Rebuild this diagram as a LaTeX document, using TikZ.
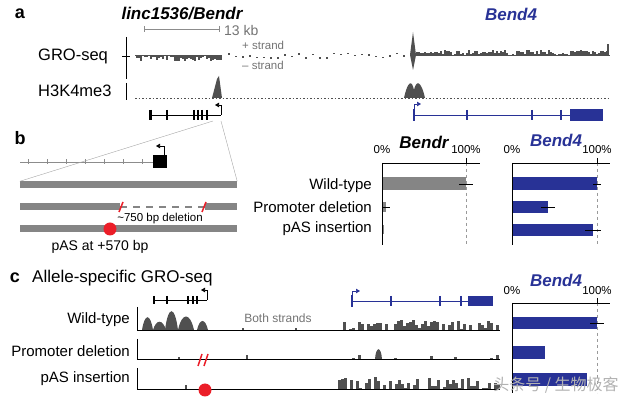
\documentclass[tikz,border=0pt]{standalone}
\usepackage{fontspec}
\setmainfont{Liberation Sans}
\newfontfamily\cjk{Noto Sans CJK SC}
\usetikzlibrary{arrows.meta,positioning}
\definecolor{bendblue}{RGB}{40,50,150}
\definecolor{pasred}{RGB}{235,30,40}
\definecolor{trackgray}{RGB}{80,80,80}

\begin{document}
\begin{tikzpicture}[x=1pt,y=-1pt,font=\fontsize{15}{17}\selectfont]
\tikzstyle{lbl}=[inner sep=0pt]
\tikzstyle{track}=[inner sep=0pt,font=\fontsize{16.5}{18}\selectfont]
\tikzstyle{panel}=[inner sep=0pt,font=\fontsize{18}{20}\selectfont\bfseries]
\tikzstyle{gene}=[inner sep=0pt,font=\fontsize{17}{19}\selectfont\bfseries\itshape]
\tikzstyle{small}=[inner sep=0pt,text=black!55,font=\fontsize{11.5}{13}\selectfont]
\tikzstyle{pct}=[inner sep=0pt,font=\fontsize{11.5}{13}\selectfont]
\tikzstyle{trk}=[fill=trackgray]
\tikzstyle{exon}=[line width=2pt]
\tikzstyle{tss}=[-{Triangle[length=4pt,width=4.5pt]},semithick]
\tikzstyle{bar}=[fill=black!48]
\tikzstyle{bbar}=[fill=bendblue]
\tikzstyle{err}=[thick]
\tikzstyle{ref}=[dashed,black!40]
\tikzstyle{axis}=[semithick]
\tikzstyle{dna}=[fill=black!48,inner sep=0pt,minimum height=7pt]
\useasboundingbox (0,0) rectangle (625,403);
\pgfmathsetseed{1536}
%% panel a %%
\node[panel] at (20,14) (La) {a};
\node[gene] at (182,14) (Gl) {linc1536/Bendr};
\node[gene,text=bendblue] at (511,14) (Gb) {Bend4};
\draw[black!45,semithick,{Bar[width=6pt]}-{Bar[width=6pt]}] (144,29) -- (220,29);
\node[lbl,text=black!55,font=\fontsize{14}{16}\selectfont,anchor=west] at (224,30) (Kb) {13 kb};
\node[track,anchor=west] at (38,56) (Gro) {GRO-seq};
\node[track,anchor=west] at (38,91) (H3) {H3K4me3};
\node[small,anchor=west] at (242,45) (Sp) {+ strand};
\node[small,anchor=west] at (242,65) (Sm) {-- strand};
\draw[axis] (126,37) -- (126,79);
\draw[axis] (122,56) -- (130,56);
\draw[axis] (126,83) -- (126,100);
\draw[trackgray,thin] (135,55) -- (222,55);
\draw[trackgray,thin] (410,55) -- (610,55);
\foreach \x in {136,138,...,220}{
  \pgfmathsetmacro\h{1+rnd*5}
  \fill[trk] (\x,55) rectangle ++(1.6,\h);
}
\foreach \x in {228,235,...,405}{
  \pgfmathsetmacro\d{rnd*5-2.5}
  \fill[trk] (\x,55+\d) rectangle ++(1.5,1.5);
}
\fill[trk] (410,55) -- (413,32) -- (416,55) -- (413,70) -- cycle;
\foreach \x in {416,418,...,606}{
  \pgfmathsetmacro\h{rnd*5}
  \fill[trk] (\x,55) rectangle ++(1.6,-\h);
}
\fill[trk] (607,55) rectangle (609,44);
\draw[trackgray,dash pattern=on 1.5pt off 2pt] (135,98) -- (610,98);
\fill[trk] (212,98) -- (217,79) -- (219,76) -- (222,98) -- cycle;
\fill[trk] (404,98) .. controls (408,80) and (412,80) .. (414,90)
  .. controls (416,80) and (421,80) .. (425,98) -- cycle;
% gene models a
\draw[semithick] (149,115) -- (221,115);
\draw[line width=3pt] (150,110) -- (150,120);
\foreach \x in {167,194,198,202,207}{
  \draw[exon] (\x,110) -- (\x,120);
}
\draw[tss] (221,115) -- (221,105) -- (215,105);
\draw[semithick,bendblue] (414,115) -- (570,115);
\draw[exon,bendblue] (414,109) -- (414,121);
\foreach \x in {467,532,561}{
  \draw[exon,bendblue,line width=1.5pt] (\x,110) -- (\x,120);
}
\fill[bendblue] (570,109) rectangle (603,121);
\draw[tss,bendblue] (414,109) -- (414,104) -- (421,104);
\coordinate (Z1) at (213,121);
\coordinate (Z2) at (221,121);
%% panel b %%
\node[panel] at (20,138) (Lb) {b};
\draw[black!45] (20,162) -- (153,162);
\foreach \x in {28,47,...,143}{
  \draw[black!45] (\x,159.5) -- (\x,164.5);
}
\node[fill=black,inner sep=0pt,minimum width=14pt,minimum height=13pt] at (160,161.5) (Ex) {};
\draw[tss] (164,155) -- (164,146) -- (156,146);
\node[dna,minimum width=217pt] at (128.5,185) (B1) {};
\node[dna,minimum width=100pt] at (70,207) (B2a) {};
\node[dna,minimum width=32pt] at (221,207) (B2b) {};
\node[dna,minimum width=217pt] at (128.5,229) (B3) {};
\draw[black!48,line width=2.5pt,dash pattern=on 7pt off 6pt] (B2a.east) -- (B2b.west);
\draw[pasred,line width=1.5pt] (119,212) -- (123,202);
\draw[pasred,line width=1.5pt] (202,212) -- (206,202);
\node[lbl,font=\fontsize{11.5}{13}\selectfont] at (160,219) (Del) {\textasciitilde 750 bp deletion};
\fill[pasred] (110,229) circle (6.5);
\node[lbl,font=\fontsize{14}{16}\selectfont] at (100,247) (Pas) {pAS at +570 bp};
\draw[black!35] (Z1) -- (B1.north west);
\draw[black!35] (Z2) -- (B1.north east);
\node[lbl,anchor=east] at (372,186) (Rw) {Wild-type};
\node[lbl,anchor=east] at (372,207) (Rp) {Promoter deletion};
\node[lbl,anchor=east] at (372,229) (Ra) {pAS insertion};
% Bendr bars
\node[gene] at (424,142) (Cb) {Bendr};
\node[pct] at (382,150) (P0) {0\%};
\node[pct] at (466,150) (P1) {100\%};
\draw[ref] (466,163) -- (466,245);
\fill[bar] (382,177) rectangle (466,190);
\draw[err] (459,184) -- (473,184);
\fill[bar] (382,202) rectangle (386,212);
\draw[err] (382,207) -- (390,207);
\fill[bar] (382,225) rectangle (383.5,234);
\draw[axis] (382,163) -- (480,163);
\draw[axis] (382,163) -- (382,245);
\draw[axis] (466,158) -- (466,163);
% Bend4 bars
\node[gene,text=bendblue] at (556,140) (Cd) {Bend4};
\node[pct] at (512,150) (Q0) {0\%};
\node[pct] at (597,150) (Q1) {100\%};
\draw[ref] (597,163) -- (597,245);
\fill[bbar] (512,177) rectangle (597,190);
\draw[err] (593,184) -- (601,184);
\fill[bbar] (512,201) rectangle (548,213);
\draw[err] (541,207) -- (555,207);
\fill[bbar] (512,224) rectangle (593,236);
\draw[err] (585,230) -- (601,230);
\draw[axis] (512,163) -- (610,163);
\draw[axis] (512,163) -- (512,245);
\draw[axis] (597,158) -- (597,163);
%% panel c %%
\node[panel] at (15,278) (Lc) {c};
\node[lbl,anchor=west,font=\fontsize{17}{19}\selectfont] at (32,278) (Ttl) {Allele-specific GRO-seq};
\draw[semithick] (154,300) -- (207,300);
\foreach \x in {154,167,188,193,197}{
  \draw[exon] (\x,296) -- (\x,304);
}
\draw[tss] (207,300) -- (207,290) -- (201,290);
\draw[semithick,bendblue] (352,301) -- (468,301);
\draw[exon,bendblue] (352,295) -- (352,307);
\foreach \x in {391,440,461}{
  \draw[exon,bendblue,line width=1.5pt] (\x,296) -- (\x,306);
}
\fill[bendblue] (468,296) rectangle (493,306);
\draw[tss,bendblue] (352,296) -- (352,291) -- (360,291);
\node[lbl,anchor=east] at (130,320) (Cw) {Wild-type};
\node[lbl,anchor=east] at (130,351) (Cp) {Promoter deletion};
\node[lbl,anchor=east] at (130,379) (Ca) {pAS insertion};
\node[lbl,text=black!55,font=\fontsize{12}{14}\selectfont] at (278,318) (Both) {Both strands};
\foreach \a/\w/\t in {142/11/317,153/13/323,165/13/309,178/16/316,197/11/322}{
  \fill[trk] (\a,330) .. controls (\a+\w/4,\t-4) and (\a+3*\w/4,\t-4) .. (\a+\w,330) -- cycle;
}
\foreach \x in {340,343,...,497}{
  \pgfmathsetmacro\h{max(0,rnd*15-4)}
  \fill[trk] (\x,330) rectangle ++(3,-\h);
}
\foreach \x in {340,346,...,497}{
  \pgfmathsetmacro\h{max(0,rnd*9-5)}
  \fill[trk] (\x,359) rectangle ++(2.5,-\h);
}
\fill[trk] (375,359) .. controls (376,346) and (381,346) .. (382,359) -- cycle;
\foreach \x in {338,341,...,497}{
  \pgfmathsetmacro\h{max(0,rnd*17-5)}
  \fill[trk] (\x,389) rectangle ++(3,-\h);
}
\fill[trk] (242,330) rectangle ++(1.5,-2);
\fill[trk] (295,330) rectangle ++(1.5,-2);
\fill[trk] (178,359) rectangle ++(1.5,-2);
\fill[trk] (246,359) rectangle ++(1.5,-4);
\fill[trk] (185,389) rectangle ++(1.5,-4);
\draw[axis] (137,307) -- (137,330) -- (500,330);
\draw[axis] (137,339) -- (137,359) -- (500,359);
\draw[axis] (137,368) -- (137,389) -- (500,389);
\draw[pasred,line width=1.5pt] (198,366) -- (202,354);
\draw[pasred,line width=1.5pt] (204,366) -- (208,354);
\fill[pasred] (205,390) circle (6.5);
% Bend4 bars c
\node[gene,text=bendblue] at (556,280) (Ce) {Bend4};
\node[pct] at (512,291) (R0) {0\%};
\node[pct] at (597,291) (R1) {100\%};
\draw[ref] (597,303) -- (597,393);
\fill[bbar] (512,317) rectangle (597,329);
\draw[err] (590,323) -- (604,323);
\fill[bbar] (512,346) rectangle (545,359);
\fill[bbar] (512,373) rectangle (587,386);
\draw[axis] (512,303) -- (610,303);
\draw[axis] (512,303) -- (512,393);
\draw[axis] (597,298) -- (597,303);
\node[lbl,text=black!30,font=\cjk\fontsize{16}{18}\selectfont] at (556,385) (Wm) {头条号 / 生物极客};
\end{tikzpicture}
\end{document}
